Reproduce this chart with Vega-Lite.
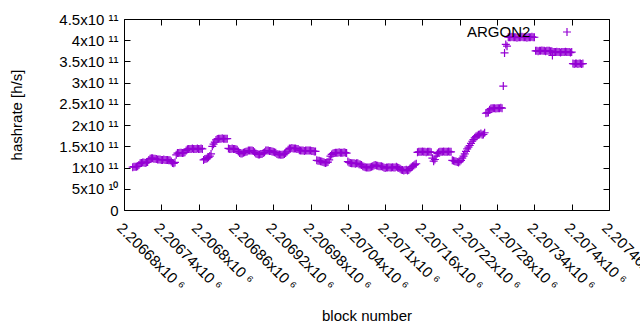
{
"$schema":"https://vega.github.io/schema/vega-lite/v6.json",
"width":485,"height":191,
"autosize":{"type":"none"},
"padding":{"left":124,"top":19,"right":31,"bottom":120},
"background":"white",
"config":{"view":{"stroke":"black","strokeWidth":1},"font":"Liberation Sans",
"axis":{"grid":false,"domain":false,"tickColor":"black","tickSize":-6,"labelColor":"black","labelFont":"Liberation Sans","labelFontSize":15,"titleFont":"Liberation Sans","titleFontSize":15,"titleFontWeight":"normal","titleColor":"black"}},
"data":{"values":[
{"b":2206694,"h":1.01e11},{"b":2206696,"h":1.02e11},{"b":2206698,"h":1.02e11},{"b":2206700,"h":1.02e11},{"b":2206702,"h":1.03e11},{"b":2206704,"h":1.06e11},
{"b":2206706,"h":1.10e11},{"b":2206708,"h":1.11e11},{"b":2206710,"h":1.12e11},{"b":2206712,"h":1.12e11},{"b":2206714,"h":1.11e11},{"b":2206716,"h":1.12e11},{"b":2206718,"h":1.13e11},
{"b":2206720,"h":1.18e11},{"b":2206722,"h":1.21e11},{"b":2206724,"h":1.22e11},{"b":2206726,"h":1.22e11},{"b":2206728,"h":1.21e11},{"b":2206730,"h":1.21e11},{"b":2206732,"h":1.20e11},{"b":2206734,"h":1.19e11},{"b":2206736,"h":1.19e11},{"b":2206738,"h":1.19e11},{"b":2206740,"h":1.18e11},{"b":2206742,"h":1.18e11},{"b":2206744,"h":1.19e11},{"b":2206746,"h":1.18e11},{"b":2206748,"h":1.18e11},{"b":2206750,"h":1.18e11},{"b":2206752,"h":1.17e11},{"b":2206754,"h":1.17e11},{"b":2206756,"h":1.14e11},
{"b":2206758,"h":1.11e11},{"b":2206760,"h":1.10e11},{"b":2206762,"h":1.12e11},
{"b":2206764,"h":1.30e11},{"b":2206766,"h":1.34e11},{"b":2206768,"h":1.34e11},{"b":2206770,"h":1.35e11},{"b":2206772,"h":1.35e11},{"b":2206774,"h":1.34e11},{"b":2206776,"h":1.35e11},{"b":2206778,"h":1.36e11},{"b":2206780,"h":1.40e11},
{"b":2206782,"h":1.43e11},{"b":2206784,"h":1.44e11},{"b":2206786,"h":1.44e11},{"b":2206788,"h":1.44e11},{"b":2206790,"h":1.45e11},{"b":2206792,"h":1.44e11},{"b":2206794,"h":1.44e11},{"b":2206796,"h":1.44e11},{"b":2206798,"h":1.45e11},{"b":2206800,"h":1.44e11},{"b":2206802,"h":1.44e11},{"b":2206804,"h":1.45e11},{"b":2206806,"h":1.44e11},
{"b":2206808,"h":1.18e11},{"b":2206810,"h":1.20e11},{"b":2206812,"h":1.21e11},{"b":2206814,"h":1.22e11},{"b":2206816,"h":1.24e11},{"b":2206818,"h":1.27e11},{"b":2206820,"h":1.32e11},{"b":2206822,"h":1.50e11},{"b":2206824,"h":1.55e11},
{"b":2206826,"h":1.60e11},{"b":2206828,"h":1.65e11},{"b":2206830,"h":1.67e11},{"b":2206832,"h":1.68e11},{"b":2206834,"h":1.68e11},{"b":2206836,"h":1.68e11},{"b":2206838,"h":1.69e11},{"b":2206840,"h":1.68e11},{"b":2206842,"h":1.68e11},{"b":2206844,"h":1.68e11},{"b":2206846,"h":1.68e11},
{"b":2206848,"h":1.45e11},{"b":2206850,"h":1.44e11},{"b":2206852,"h":1.44e11},{"b":2206854,"h":1.45e11},{"b":2206856,"h":1.44e11},{"b":2206858,"h":1.44e11},{"b":2206860,"h":1.43e11},{"b":2206862,"h":1.42e11},{"b":2206864,"h":1.38e11},
{"b":2206866,"h":1.34e11},{"b":2206868,"h":1.33e11},{"b":2206870,"h":1.33e11},{"b":2206872,"h":1.35e11},{"b":2206874,"h":1.36e11},{"b":2206876,"h":1.37e11},{"b":2206878,"h":1.38e11},{"b":2206880,"h":1.40e11},
{"b":2206882,"h":1.40e11},{"b":2206884,"h":1.40e11},{"b":2206886,"h":1.40e11},{"b":2206888,"h":1.39e11},{"b":2206890,"h":1.36e11},
{"b":2206892,"h":1.33e11},{"b":2206894,"h":1.32e11},{"b":2206896,"h":1.31e11},{"b":2206898,"h":1.31e11},{"b":2206900,"h":1.32e11},{"b":2206902,"h":1.32e11},{"b":2206904,"h":1.34e11},{"b":2206906,"h":1.36e11},
{"b":2206908,"h":1.40e11},{"b":2206910,"h":1.40e11},{"b":2206912,"h":1.40e11},{"b":2206914,"h":1.39e11},{"b":2206916,"h":1.39e11},{"b":2206918,"h":1.38e11},{"b":2206920,"h":1.37e11},{"b":2206922,"h":1.36e11},{"b":2206924,"h":1.35e11},
{"b":2206926,"h":1.32e11},{"b":2206928,"h":1.31e11},{"b":2206930,"h":1.31e11},{"b":2206932,"h":1.30e11},{"b":2206934,"h":1.30e11},{"b":2206936,"h":1.31e11},{"b":2206938,"h":1.32e11},{"b":2206940,"h":1.34e11},{"b":2206942,"h":1.37e11},
{"b":2206944,"h":1.42e11},{"b":2206946,"h":1.45e11},{"b":2206948,"h":1.45e11},{"b":2206950,"h":1.46e11},{"b":2206952,"h":1.45e11},{"b":2206954,"h":1.45e11},{"b":2206956,"h":1.45e11},{"b":2206958,"h":1.44e11},{"b":2206960,"h":1.44e11},
{"b":2206962,"h":1.41e11},{"b":2206964,"h":1.40e11},{"b":2206966,"h":1.40e11},{"b":2206968,"h":1.40e11},{"b":2206970,"h":1.39e11},{"b":2206972,"h":1.40e11},{"b":2206974,"h":1.40e11},{"b":2206976,"h":1.40e11},{"b":2206978,"h":1.40e11},{"b":2206980,"h":1.40e11},{"b":2206982,"h":1.39e11},{"b":2206984,"h":1.39e11},{"b":2206986,"h":1.38e11},{"b":2206988,"h":1.38e11},
{"b":2206990,"h":1.17e11},{"b":2206992,"h":1.16e11},{"b":2206994,"h":1.16e11},{"b":2206996,"h":1.15e11},{"b":2206998,"h":1.14e11},{"b":2207000,"h":1.13e11},{"b":2207002,"h":1.12e11},{"b":2207004,"h":1.11e11},{"b":2207006,"h":1.12e11},{"b":2207008,"h":1.13e11},{"b":2207010,"h":1.18e11},
{"b":2207012,"h":1.27e11},{"b":2207014,"h":1.31e11},{"b":2207016,"h":1.33e11},{"b":2207018,"h":1.34e11},{"b":2207020,"h":1.35e11},{"b":2207022,"h":1.35e11},{"b":2207024,"h":1.35e11},{"b":2207026,"h":1.36e11},{"b":2207028,"h":1.35e11},{"b":2207030,"h":1.35e11},{"b":2207032,"h":1.35e11},{"b":2207034,"h":1.36e11},{"b":2207036,"h":1.35e11},{"b":2207038,"h":1.34e11},
{"b":2207040,"h":1.14e11},{"b":2207042,"h":1.12e11},{"b":2207044,"h":1.11e11},{"b":2207046,"h":1.10e11},{"b":2207048,"h":1.10e11},{"b":2207050,"h":1.10e11},{"b":2207052,"h":1.09e11},{"b":2207054,"h":1.10e11},{"b":2207056,"h":1.10e11},{"b":2207058,"h":1.08e11},{"b":2207060,"h":1.07e11},{"b":2207062,"h":1.06e11},
{"b":2207064,"h":1.03e11},{"b":2207066,"h":1.02e11},{"b":2207068,"h":1.01e11},{"b":2207070,"h":1.00e11},{"b":2207072,"h":1.00e11},{"b":2207074,"h":1.00e11},{"b":2207076,"h":1.01e11},{"b":2207078,"h":1.02e11},{"b":2207080,"h":1.03e11},
{"b":2207082,"h":1.05e11},{"b":2207084,"h":1.06e11},{"b":2207086,"h":1.05e11},{"b":2207088,"h":1.04e11},{"b":2207090,"h":1.03e11},{"b":2207092,"h":1.03e11},{"b":2207094,"h":1.03e11},{"b":2207096,"h":1.02e11},
{"b":2207098,"h":1.00e11},{"b":2207100,"h":0.99e11},{"b":2207102,"h":1.00e11},{"b":2207104,"h":1.00e11},{"b":2207106,"h":1.01e11},{"b":2207108,"h":1.00e11},{"b":2207110,"h":1.00e11},{"b":2207112,"h":1.01e11},{"b":2207114,"h":1.00e11},{"b":2207116,"h":1.00e11},{"b":2207118,"h":1.02e11},{"b":2207120,"h":1.00e11},{"b":2207122,"h":0.99e11},
{"b":2207124,"h":0.97e11},{"b":2207126,"h":0.95e11},{"b":2207128,"h":0.94e11},{"b":2207130,"h":0.93e11},{"b":2207132,"h":0.94e11},{"b":2207134,"h":0.95e11},{"b":2207136,"h":0.93e11},{"b":2207138,"h":0.94e11},{"b":2207140,"h":0.98e11},
{"b":2207142,"h":1.01e11},{"b":2207144,"h":1.03e11},{"b":2207146,"h":1.05e11},{"b":2207148,"h":1.07e11},{"b":2207150,"h":1.09e11},
{"b":2207152,"h":1.36e11},{"b":2207154,"h":1.37e11},{"b":2207156,"h":1.37e11},{"b":2207158,"h":1.37e11},{"b":2207160,"h":1.38e11},{"b":2207162,"h":1.37e11},{"b":2207164,"h":1.37e11},{"b":2207166,"h":1.36e11},{"b":2207168,"h":1.37e11},{"b":2207170,"h":1.37e11},{"b":2207172,"h":1.37e11},{"b":2207174,"h":1.36e11},
{"b":2207176,"h":1.22e11},{"b":2207178,"h":1.15e11},{"b":2207180,"h":1.19e11},{"b":2207182,"h":1.27e11},
{"b":2207184,"h":1.33e11},{"b":2207186,"h":1.36e11},{"b":2207188,"h":1.37e11},{"b":2207190,"h":1.37e11},{"b":2207192,"h":1.37e11},{"b":2207194,"h":1.38e11},{"b":2207196,"h":1.37e11},{"b":2207198,"h":1.37e11},{"b":2207200,"h":1.37e11},{"b":2207202,"h":1.38e11},{"b":2207204,"h":1.37e11},{"b":2207206,"h":1.37e11},
{"b":2207208,"h":1.17e11},{"b":2207210,"h":1.16e11},{"b":2207212,"h":1.15e11},{"b":2207214,"h":1.14e11},{"b":2207216,"h":1.13e11},{"b":2207218,"h":1.12e11},{"b":2207220,"h":1.14e11},{"b":2207222,"h":1.17e11},
{"b":2207224,"h":1.22e11},{"b":2207226,"h":1.27e11},{"b":2207228,"h":1.32e11},{"b":2207230,"h":1.38e11},{"b":2207232,"h":1.44e11},{"b":2207234,"h":1.48e11},{"b":2207236,"h":1.52e11},{"b":2207238,"h":1.57e11},{"b":2207240,"h":1.62e11},{"b":2207242,"h":1.66e11},{"b":2207244,"h":1.70e11},{"b":2207246,"h":1.73e11},{"b":2207248,"h":1.75e11},{"b":2207250,"h":1.77e11},
{"b":2207252,"h":1.78e11},{"b":2207254,"h":1.80e11},{"b":2207256,"h":1.77e11},{"b":2207258,"h":1.78e11},{"b":2207260,"h":1.82e11},
{"b":2207262,"h":2.28e11},{"b":2207264,"h":2.29e11},{"b":2207266,"h":2.30e11},{"b":2207268,"h":2.36e11},{"b":2207270,"h":2.39e11},{"b":2207272,"h":2.40e11},{"b":2207274,"h":2.40e11},{"b":2207276,"h":2.40e11},{"b":2207278,"h":2.39e11},{"b":2207280,"h":2.40e11},{"b":2207282,"h":2.40e11},{"b":2207284,"h":2.40e11},{"b":2207286,"h":2.41e11},{"b":2207288,"h":2.40e11},
{"b":2207290,"h":2.92e11},{"b":2207292,"h":3.70e11},{"b":2207294,"h":3.90e11},{"b":2207296,"h":3.86e11},
{"b":2207298,"h":4.07e11},{"b":2207300,"h":4.07e11},{"b":2207302,"h":4.07e11},{"b":2207304,"h":4.08e11},{"b":2207306,"h":4.07e11},{"b":2207308,"h":4.07e11},{"b":2207310,"h":4.07e11},{"b":2207312,"h":4.06e11},{"b":2207314,"h":4.07e11},{"b":2207316,"h":4.07e11},{"b":2207318,"h":4.07e11},{"b":2207320,"h":4.08e11},{"b":2207322,"h":4.07e11},{"b":2207324,"h":4.07e11},{"b":2207326,"h":4.07e11},{"b":2207328,"h":4.06e11},{"b":2207330,"h":4.07e11},{"b":2207332,"h":4.07e11},{"b":2207334,"h":4.07e11},{"b":2207336,"h":4.08e11},{"b":2207338,"h":4.07e11},{"b":2207340,"h":4.07e11},
{"b":2207342,"h":3.75e11},{"b":2207344,"h":3.75e11},{"b":2207346,"h":3.74e11},{"b":2207348,"h":3.75e11},{"b":2207350,"h":3.75e11},{"b":2207352,"h":3.76e11},{"b":2207354,"h":3.75e11},{"b":2207356,"h":3.75e11},{"b":2207358,"h":3.74e11},{"b":2207360,"h":3.75e11},{"b":2207362,"h":3.75e11},{"b":2207364,"h":3.75e11},{"b":2207366,"h":3.74e11},{"b":2207368,"h":3.74e11},{"b":2207369,"h":3.64e11},
{"b":2207370,"h":3.72e11},{"b":2207372,"h":3.72e11},{"b":2207374,"h":3.72e11},{"b":2207376,"h":3.73e11},{"b":2207378,"h":3.72e11},{"b":2207380,"h":3.72e11},{"b":2207382,"h":3.71e11},{"b":2207384,"h":3.72e11},{"b":2207386,"h":3.72e11},{"b":2207388,"h":3.72e11},{"b":2207390,"h":3.73e11},{"b":2207392,"h":3.72e11},{"b":2207394,"h":3.72e11},{"b":2207396,"h":3.72e11},{"b":2207398,"h":3.71e11},{"b":2207400,"h":3.72e11},
{"b":2207402,"h":3.45e11},{"b":2207404,"h":3.44e11},{"b":2207406,"h":3.45e11},{"b":2207408,"h":3.45e11},{"b":2207410,"h":3.44e11},{"b":2207412,"h":3.45e11},{"b":2207414,"h":3.45e11},{"b":2207416,"h":3.44e11},{"b":2207418,"h":3.45e11}
]},
"layer":[
{"mark":{"type":"point","shape":"M-1,0H1M0,-1V1","filled":false,"size":64,"strokeWidth":1.2,"opacity":1},
"encoding":{
"x":{"field":"b","type":"quantitative","scale":{"domain":[2206680,2207460],"nice":false,"zero":false},
"axis":{"orient":"bottom","title":"block number","values":[2206680,2206740,2206800,2206860,2206920,2206980,2207040,2207100,2207160,2207220,2207280,2207340,2207400,2207460],"labelExpr":"format(datum.value/1e6,'.5~f') + 'x10 ⁶'","labelAngle":45,"labelAlign":"left","labelBaseline":"top","labelPadding":16,"labelOverlap":false,"labelBound":false,"titlePadding":15}},
"y":{"field":"h","type":"quantitative","scale":{"domain":[0,4.5e11],"nice":false},
"axis":{"orient":"left","title":"hashrate [h/s]","values":[0,5e10,1e11,1.5e11,2e11,2.5e11,3e11,3.5e11,4e11,4.5e11],"labelExpr":"datum.value == 0 ? '0' : (datum.value >= 1e11 ? format(datum.value/1e11,'~g') + 'x10 ¹¹' : format(datum.value/1e10,'~g') + 'x10 ¹⁰')","labelPadding":12,"labelOverlap":false,"titlePadding":34}},
"color":{"datum":"ARGON2","scale":{"range":["#9400d3"]},
"legend":{"orient":"none","legendX":343,"legendY":3,"title":"ARGON2","titleOrient":"left","titleFontSize":15,"titleFontWeight":"normal","titleColor":"black","titleFont":"Liberation Sans","labelExpr":"''","labelFontSize":20,"symbolType":"M-1,0H1M0,-1V1","symbolFillColor":"transparent","symbolStrokeColor":"#9400d3","symbolStrokeWidth":1.2,"symbolSize":64,"titlePadding":26}}}},
{"mark":{"type":"point","opacity":0},
"encoding":{
"x":{"field":"b","type":"quantitative","axis":{"orient":"top","title":null,"labels":false,"values":[2206680,2206740,2206800,2206860,2206920,2206980,2207040,2207100,2207160,2207220,2207280,2207340,2207400,2207460]}},
"y":{"field":"h","type":"quantitative","axis":{"orient":"right","title":null,"labels":false,"values":[0,5e10,1e11,1.5e11,2e11,2.5e11,3e11,3.5e11,4e11,4.5e11]}}}}
],
"resolve":{"axis":{"x":"independent","y":"independent"}}
}
